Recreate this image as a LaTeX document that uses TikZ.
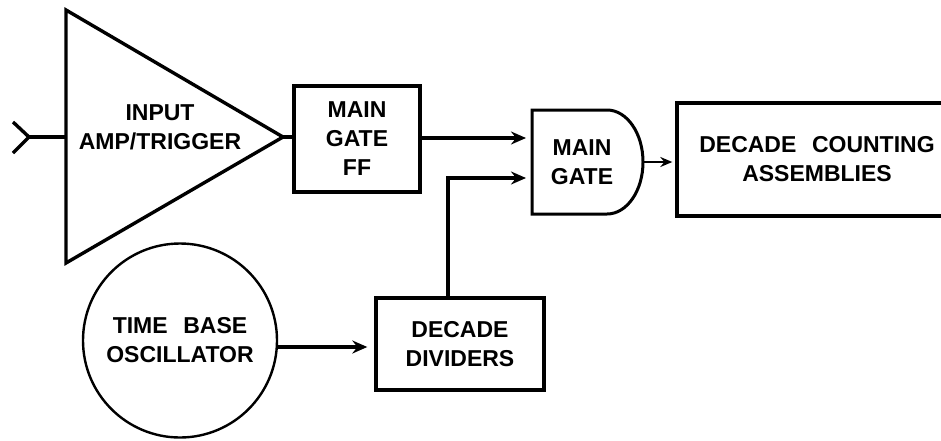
\documentclass[tikz,border=0pt]{standalone}
\usepackage{fontspec}
\setmainfont{Liberation Sans}
\usetikzlibrary{arrows.meta}
\begin{document}
\begin{tikzpicture}[x=1pt,y=-1pt,
  lbl/.style={align=center,font=\fontsize{23}{29}\bfseries\selectfont,inner sep=0pt},
  blk/.style={draw,line width=3.4pt,rectangle,lbl},
  wire/.style={line width=3.4pt},
  arr/.style={line width=3.4pt,-{Stealth[length=15pt,width=13pt,inset=5pt]}},
  arrs/.style={line width=2.6pt,-{Stealth[length=12pt,width=10pt,inset=4pt]}}]
\useasboundingbox (0,0) rectangle (941,440);
\clip (0,0) rectangle (941,440);
% input amplifier triangle
\coordinate (ampT) at (66,10);
\coordinate (ampB) at (66,263);
\coordinate (ampTip) at (283,137);
\coordinate (ampIn) at (66,137);
\coordinate (chevV) at (29,137);
\coordinate (chevA) at (13,122);
\coordinate (chevB) at (13,153);
\draw[wire,line join=miter] (ampT) -- (ampTip) -- (ampB) -- cycle;
\node[lbl] (amp) at (160,127) {INPUT\\AMP/TRIGGER};
\draw[wire] (chevA) -- (chevV) -- (chevB);
\draw[wire] (chevV) -- (ampIn);
% main gate flip-flop
\node[blk,minimum width=126pt,minimum height=106pt] (ff) at (357,139) {MAIN\\GATE\\FF};
\draw[wire] (ampTip) -- (ampTip -| ff.west);
% main gate (AND shape)
\coordinate (gTL) at (532,110);
\coordinate (gBL) at (532,214);
\coordinate (gBR) at (607,214);
\draw[line width=3pt] (gBL) -- (gBR) arc[start angle=-90,end angle=90,x radius=36pt,y radius=52pt] -- (gTL) -- cycle;
\node[lbl] (gate) at (582,162) {MAIN\\GATE};
\coordinate (gin1) at (532,138);
\coordinate (gin2) at (532,178);
\coordinate (gout) at (643,162);
% decade counting assemblies
\node[blk,minimum width=280pt,minimum height=113pt] (cnt) at (817,159.5) {DECADE\hspace{0.4em} COUNTING\\ASSEMBLIES};
% time base oscillator
\node[draw,circle,line width=2.4pt,minimum size=194pt,lbl] (osc) at (180,340.5) {TIME\hspace{0.4em} BASE\\OSCILLATOR};
% decade dividers
\node[blk,minimum width=168pt,minimum height=92pt] (div) at (460,344) {DECADE\\DIVIDERS};
% connectors
\draw[arr,shorten >=6pt] (ff.east |- gin1) -- (gin1);
\draw[arr,shorten >=6pt] ([xshift=-12pt]div.north) |- (gin2);
\draw[arrs,shorten >=3pt] (gout) -- (gout -| cnt.west);
\draw[arr,shorten >=7pt] ([yshift=-6.5pt]osc.east) -- ([yshift=-6.5pt]osc.east -| div.west);
\end{tikzpicture}
\end{document}
